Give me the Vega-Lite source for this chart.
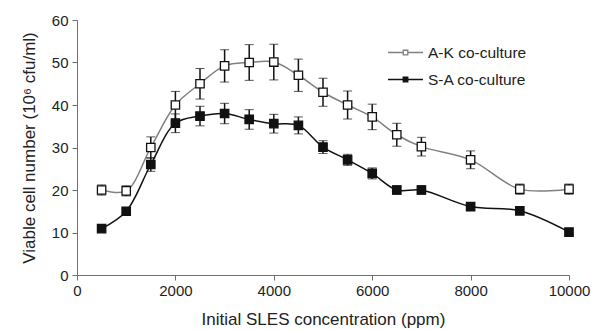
{
  "$schema": "https://vega.github.io/schema/vega-lite/v6.json",
  "width": 492,
  "height": 255,
  "autosize": "none",
  "padding": {"left": 77, "top": 20, "right": 24, "bottom": 55},
  "background": "white",
  "config": {
    "view": {"stroke": null},
    "font": "Liberation Sans",
    "axis": {
      "grid": false,
      "domainColor": "#707070",
      "tickColor": "#707070",
      "tickSize": 5,
      "labelFont": "Liberation Sans",
      "labelFontSize": 15,
      "labelColor": "#222",
      "titleFont": "Liberation Sans",
      "titleFontSize": 17,
      "titleFontWeight": "normal",
      "titleColor": "#222"
    }
  },
  "data": {
    "values": [
      {"conc": 500, "series": "A-K co-culture", "mean": 20, "lo": 18.8, "hi": 21.2},
      {"conc": 1000, "series": "A-K co-culture", "mean": 19.8, "lo": 18.6, "hi": 21},
      {"conc": 1500, "series": "A-K co-culture", "mean": 30, "lo": 27.5, "hi": 32.5},
      {"conc": 2000, "series": "A-K co-culture", "mean": 40, "lo": 36.8, "hi": 43.2},
      {"conc": 2500, "series": "A-K co-culture", "mean": 45, "lo": 41.4, "hi": 48.6},
      {"conc": 3000, "series": "A-K co-culture", "mean": 49.2, "lo": 45.4, "hi": 53},
      {"conc": 3500, "series": "A-K co-culture", "mean": 50, "lo": 45.8, "hi": 54.2},
      {"conc": 4000, "series": "A-K co-culture", "mean": 50.1, "lo": 45.9, "hi": 54.3},
      {"conc": 4500, "series": "A-K co-culture", "mean": 47, "lo": 43.2, "hi": 50.8},
      {"conc": 5000, "series": "A-K co-culture", "mean": 43, "lo": 39.7, "hi": 46.3},
      {"conc": 5500, "series": "A-K co-culture", "mean": 40, "lo": 36.7, "hi": 43.3},
      {"conc": 6000, "series": "A-K co-culture", "mean": 37.2, "lo": 34.2, "hi": 40.2},
      {"conc": 6500, "series": "A-K co-culture", "mean": 33, "lo": 30.3, "hi": 35.7},
      {"conc": 7000, "series": "A-K co-culture", "mean": 30.2, "lo": 28, "hi": 32.4},
      {"conc": 8000, "series": "A-K co-culture", "mean": 27.1, "lo": 25, "hi": 29.2},
      {"conc": 9000, "series": "A-K co-culture", "mean": 20.2, "lo": 19, "hi": 21.4},
      {"conc": 10000, "series": "A-K co-culture", "mean": 20.2, "lo": 19, "hi": 21.4},
      {"conc": 500, "series": "S-A co-culture", "mean": 10.9, "lo": 10.4, "hi": 11.4},
      {"conc": 1000, "series": "S-A co-culture", "mean": 15, "lo": 14.4, "hi": 15.6},
      {"conc": 1500, "series": "S-A co-culture", "mean": 26, "lo": 24.4, "hi": 27.6},
      {"conc": 2000, "series": "S-A co-culture", "mean": 35.7, "lo": 33.5, "hi": 37.9},
      {"conc": 2500, "series": "S-A co-culture", "mean": 37.4, "lo": 35.1, "hi": 39.7},
      {"conc": 3000, "series": "S-A co-culture", "mean": 38, "lo": 35.6, "hi": 40.4},
      {"conc": 3500, "series": "S-A co-culture", "mean": 36.6, "lo": 34.3, "hi": 38.9},
      {"conc": 4000, "series": "S-A co-culture", "mean": 35.6, "lo": 33.4, "hi": 37.8},
      {"conc": 4500, "series": "S-A co-culture", "mean": 35.2, "lo": 33.2, "hi": 37.2},
      {"conc": 5000, "series": "S-A co-culture", "mean": 30.1, "lo": 28.6, "hi": 31.6},
      {"conc": 5500, "series": "S-A co-culture", "mean": 27.1, "lo": 25.8, "hi": 28.4},
      {"conc": 6000, "series": "S-A co-culture", "mean": 23.9, "lo": 22.6, "hi": 25.2},
      {"conc": 6500, "series": "S-A co-culture", "mean": 20, "lo": 19, "hi": 21},
      {"conc": 7000, "series": "S-A co-culture", "mean": 20, "lo": 19, "hi": 21},
      {"conc": 8000, "series": "S-A co-culture", "mean": 16.1, "lo": 15.5, "hi": 16.7},
      {"conc": 9000, "series": "S-A co-culture", "mean": 15.1, "lo": 14.5, "hi": 15.7},
      {"conc": 10000, "series": "S-A co-culture", "mean": 10.1, "lo": 9.5, "hi": 10.7}
    ]
  },
  "encoding": {
    "x": {
      "field": "conc",
      "type": "quantitative",
      "scale": {"domain": [0, 10000], "nice": false},
      "axis": {"values": [0, 2000, 4000, 6000, 8000, 10000], "format": "d", "title": "Initial SLES concentration (ppm)", "labelPadding": 3, "titlePadding": 13, "labelFlush": false}
    }
  },
  "layer": [
    {
      "mark": {"type": "line", "interpolate": "catmull-rom", "strokeWidth": 1.5},
      "encoding": {
        "y": {
          "field": "mean",
          "type": "quantitative",
          "scale": {"domain": [0, 60], "nice": false},
          "title": "Viable cell number (10\u2076 cfu/ml)",
          "axis": {"values": [0, 10, 20, 30, 40, 50, 60], "title": "Viable cell number (10\u2076 cfu/ml)", "labelPadding": 4, "titlePadding": 13}
        },
        "color": {
          "field": "series",
          "type": "nominal",
          "scale": {"domain": ["A-K co-culture", "S-A co-culture"], "range": ["#808080", "#111111"]},
          "legend": {
            "title": null,
            "orient": "none",
            "legendX": 310,
            "legendY": 14,
            "symbolType": "M-1,0H-0.13M0.13,0H1M-0.13,-0.13H0.13V0.13H-0.13Z",
            "symbolSize": 1225,
            "symbolStrokeWidth": 1.3,
            "labelFont": "Liberation Sans",
            "labelFontSize": 15.5,
            "labelColor": "#222",
            "labelOffset": 4,
            "rowPadding": -1,
            "encode": {
              "symbols": {
                "update": {
                  "fill": {"signal": "datum.value === 'A-K co-culture' ? '#ffffff' : '#111111'"},
                  "fillOpacity": {"value": 1},
                  "opacity": {"value": 1}
                }
              }
            }
          }
        }
      }
    },
    {
      "mark": {"type": "errorbar", "ticks": {"size": 9, "color": "#111", "strokeWidth": 1.5}, "rule": {"color": "#111", "strokeWidth": 1.5}},
      "encoding": {
        "y": {"field": "lo", "type": "quantitative", "title": "Viable cell number (10\u2076 cfu/ml)"},
        "y2": {"field": "hi"},
        "detail": {"field": "series", "type": "nominal"}
      }
    },
    {
      "mark": {"type": "point", "shape": "square", "filled": true, "size": 70, "stroke": "#111", "strokeWidth": 1.3, "opacity": 1},
      "encoding": {
        "y": {"field": "mean", "type": "quantitative", "title": "Viable cell number (10\u2076 cfu/ml)"},
        "fill": {
          "field": "series",
          "type": "nominal",
          "scale": {"domain": ["A-K co-culture", "S-A co-culture"], "range": ["#ffffff", "#111111"]},
          "legend": null
        }
      }
    }
  ]
}
